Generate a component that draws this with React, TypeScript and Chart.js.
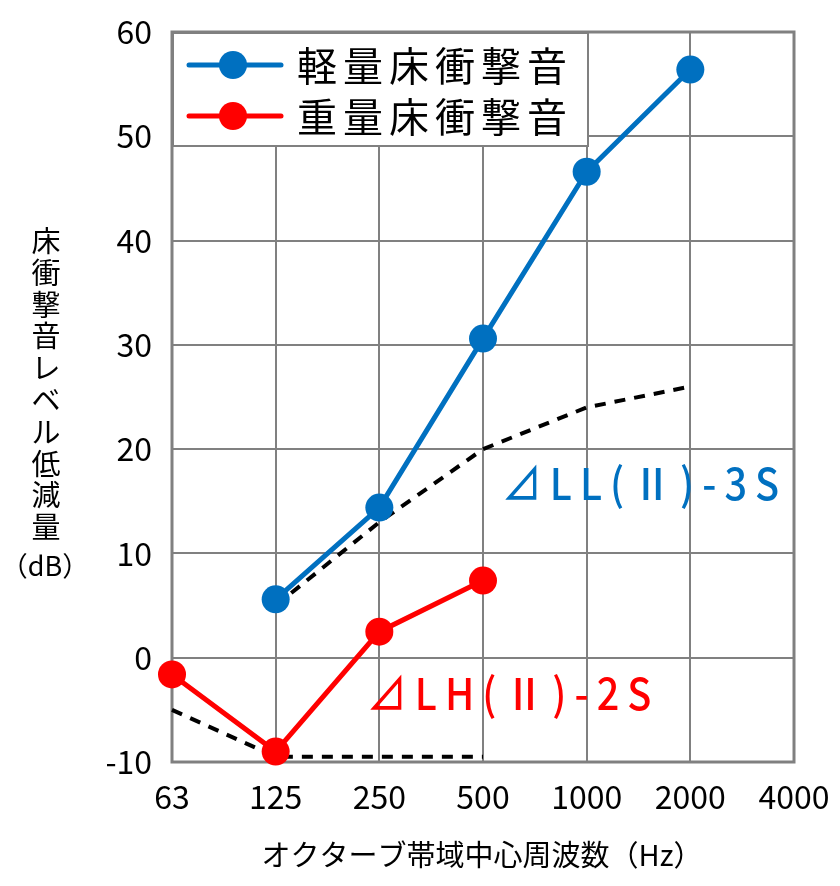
import { useEffect, useRef } from "react";
import { Chart, registerables } from "chart.js";

Chart.register(...registerables);

const bands = ["63", "125", "250", "500", "1000", "2000", "4000"];
const lightImpact = [null, 5.6, 14.4, 30.6, 46.6, 56.4, null];
const heavyImpact = [-1.6, -9, 2.5, 7.4, null, null, null];
const gradeLL3S = [null, 5, 13, 20, 24, 26, null];
const gradeLH2S = [-5, -9.5, -9.5, -9.5, null, null, null];

const legendNames = ["軽量床衝撃音", "重量床衝撃音"];
const yTitleChars = "床衝撃音レベル低減量";
const yTitleUnit = "（dB）";
const xTitle = "オクターブ帯域中心周波数（Hz）";
const llLabel = "⊿LL(Ⅱ)-3S";
const lhLabel = "⊿LH(Ⅱ)-2S";

const BLUE = "#0070C0";
const RED = "#FF0000";
const GRID = "#808080";
const FONT = "'Noto Sans CJK JP', 'Noto Sans', sans-serif";

const framePlugin = {
  id: "frame",
  beforeDatasetsDraw(chart: any) {
    const { ctx, chartArea: a } = chart;
    ctx.save();
    ctx.strokeStyle = GRID;
    ctx.lineWidth = 3;
    ctx.strokeRect(a.left, a.top, a.right - a.left, a.bottom - a.top);
    ctx.restore();
  },
};

const decorPlugin = {
  id: "decor",
  afterDraw(chart: any) {
    const { ctx } = chart;
    ctx.save();

    // legend box
    ctx.fillStyle = "#fff";
    ctx.fillRect(173, 32, 415, 114);
    ctx.strokeStyle = GRID;
    ctx.lineWidth = 2;
    ctx.strokeRect(173, 33, 415, 113);
    const colors = [BLUE, RED];
    const rows = [65, 116];
    legendNames.forEach((name, i) => {
      const y = rows[i];
      ctx.strokeStyle = colors[i];
      ctx.fillStyle = colors[i];
      ctx.lineWidth = 5;
      ctx.lineCap = "round";
      ctx.beginPath();
      ctx.moveTo(189, y);
      ctx.lineTo(281, y);
      ctx.stroke();
      ctx.beginPath();
      ctx.arc(233, y, 14, 0, Math.PI * 2);
      ctx.fill();
      ctx.fillStyle = "#000";
      ctx.font = `40px ${FONT}`;
      (ctx as any).letterSpacing = "6px";
      ctx.textAlign = "left";
      ctx.textBaseline = "middle";
      ctx.fillText(name, 297, y + 1);
      (ctx as any).letterSpacing = "0px";
    });

    // y title, vertical
    ctx.fillStyle = "#000";
    ctx.font = `29px ${FONT}`;
    ctx.textAlign = "center";
    ctx.textBaseline = "middle";
    [...yTitleChars].forEach((c, i) => ctx.fillText(c, 46, 241 + i * 31.8));
    ctx.font = `27px ${FONT}`;
    ctx.fillText(yTitleUnit, 45, 566);

    // x title
    ctx.font = `29px ${FONT}`;
    ctx.fillText(xTitle, 482, 855);

    // series labels
    const drawLabel = (text: string, x: number, y: number, color: string) => {
      ctx.save();
      ctx.fillStyle = color;
      ctx.font = `500 44px ${FONT}`;
      (ctx as any).letterSpacing = "9px";
      ctx.textAlign = "left";
      ctx.textBaseline = "alphabetic";
      ctx.translate(x, y);
      ctx.scale(0.9, 1);
      ctx.fillText(text, 0, 0);
      ctx.restore();
    };
    drawLabel(llLabel, 502, 500, BLUE);
    drawLabel(lhLabel, 367, 710, RED);

    ctx.restore();
  },
};

export default function App() {
  const canvasRef = useRef<HTMLCanvasElement>(null);
  const chartRef = useRef<Chart | null>(null);

  useEffect(() => {
    if (!canvasRef.current) return;
    if (chartRef.current) chartRef.current.destroy();

    chartRef.current = new Chart(canvasRef.current, {
      type: "line",
      data: {
        labels: bands,
        datasets: [
          {
            label: legendNames[0],
            data: lightImpact,
            borderColor: BLUE,
            backgroundColor: BLUE,
            borderWidth: 5,
            pointRadius: 14,
            pointBorderWidth: 0,
            clip: false,
            order: 1,
          },
          {
            label: legendNames[1],
            data: heavyImpact,
            borderColor: RED,
            backgroundColor: RED,
            borderWidth: 5,
            pointRadius: 14,
            pointBorderWidth: 0,
            clip: false,
            order: 1,
          },
          {
            label: llLabel,
            data: gradeLL3S,
            borderColor: "#000",
            borderWidth: 4,
            borderDash: [11, 9],
            pointRadius: 0,
            clip: false,
            order: 3,
          },
          {
            label: lhLabel,
            data: gradeLH2S,
            borderColor: "#000",
            borderWidth: 4,
            borderDash: [11, 9],
            pointRadius: 0,
            clip: false,
            order: 3,
          },
        ] as any,
      },
      options: {
        animation: false,
        responsive: true,
        maintainAspectRatio: false,
        layout: { padding: { left: 0, right: 46, top: 32, bottom: 0 } },
        plugins: {
          legend: { display: false },
          tooltip: { enabled: false },
        },
        scales: {
          x: {
            grid: { color: GRID, lineWidth: 2, drawTicks: false },
            border: { display: false },
            ticks: {
              color: "#000",
              padding: 16,
              font: { family: FONT, size: 32 },
              maxRotation: 0,
              autoSkip: false,
            },
            afterFit: (s: any) => {
              s.height = 124;
              s.paddingLeft = 0;
              s.paddingRight = 0;
            },
          },
          y: {
            min: -10,
            max: 60,
            grid: { color: GRID, lineWidth: 2, drawTicks: false },
            border: { display: false },
            ticks: {
              stepSize: 10,
              color: "#000",
              padding: 20,
              font: { family: FONT, size: 32 },
            },
            afterFit: (s: any) => {
              s.width = 172;
              s.paddingTop = 0;
              s.paddingBottom = 0;
            },
          },
        },
      },
      plugins: [framePlugin, decorPlugin],
    });

    return () => {
      if (chartRef.current) {
        chartRef.current.destroy();
        chartRef.current = null;
      }
    };
  }, []);

  return (
    <div style={{ position: "absolute", left: 0, top: 0, width: 840, height: 886, background: "#fff" }}>
      <canvas ref={canvasRef}></canvas>
    </div>
  );
}
